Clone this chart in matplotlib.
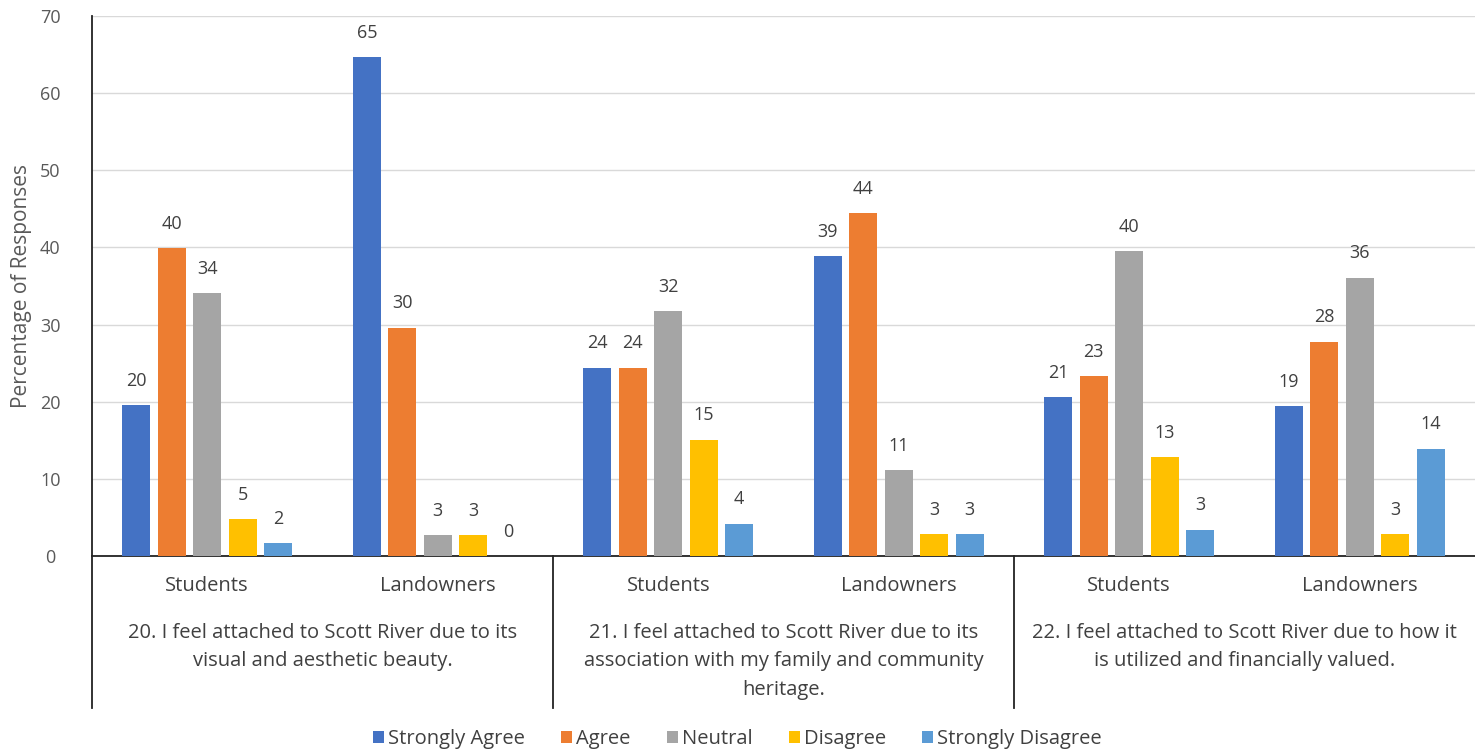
import numpy as np
import matplotlib
matplotlib.use("Agg")
from matplotlib import pyplot as plt
import matplotlib.transforms as mtransforms

plt.rcParams['font.family'] = ['Open Sans', 'DejaVu Sans']

respostas = ["Strongly Agree", "Agree", "Neutral", "Disagree", "Strongly Disagree"]
cores = ["#4472C4", "#ED7D31", "#A5A5A5", "#FFC000", "#5B9BD5"]

grupos = ["Students", "Landowners", "Students", "Landowners", "Students", "Landowners"]
perguntas = [
    "20. I feel attached to Scott River due to its\nvisual and aesthetic beauty.",
    "21. I feel attached to Scott River due to its\nassociation with my family and community\nheritage.",
    "22. I feel attached to Scott River due to how it\nis utilized and financially valued.",
]

# percent per grupo (Students, Landowners) x 3 perguntas
strongly_agree = [19.6, 64.7, 24.4, 38.9, 20.6, 19.4]
agree = [39.9, 29.6, 24.4, 44.4, 23.3, 27.8]
neutral = [34.1, 2.7, 31.7, 11.1, 39.5, 36.1]
disagree = [4.8, 2.7, 15.1, 2.8, 12.8, 2.8]
strongly_disagree = [1.7, 0.0, 4.2, 2.8, 3.4, 13.9]

series = [strongly_agree, agree, neutral, disagree, strongly_disagree]

fig = plt.figure(figsize=(14.75, 7.54), dpi=100)
ax = fig.add_axes([92/1475, 198/754, 1 - 92/1475, 540/754])

x = np.arange(len(grupos))
passo = 0.154
largura = 0.12
for i, (vals, cor, nome) in enumerate(zip(series, cores, respostas)):
    pos = x + (i - 2) * passo
    barras = ax.bar(pos, vals, largura, color=cor, label=nome, zorder=3)
    for b, v in zip(barras, vals):
        ax.annotate(str(int(round(v))), (b.get_x() + b.get_width() / 2, v),
                    xytext=(0, 11), textcoords="offset points",
                    ha="center", va="bottom", fontsize=13, color="#404040")

ax.set_xlim(-0.5, len(grupos) - 0.5)
ax.set_ylim(0, 70)
ax.set_yticks(range(0, 71, 10))
ax.yaxis.grid(True, color="#d9d9d9", linewidth=1, zorder=0)
ax.tick_params(axis="y", length=0, labelsize=13, labelcolor="#595959", pad=30)
for t in ax.get_yticklabels():
    t.set_horizontalalignment("center")
ax.set_xticks([])
for s in ["top", "right"]:
    ax.spines[s].set_visible(False)
ax.spines["left"].set_color("#222222")
ax.spines["bottom"].set_color("#222222")
ax.spines["left"].set_linewidth(1.3)
ax.spines["bottom"].set_linewidth(1.3)
ax.set_ylabel("Percentage of Responses", fontsize=15, color="#595959")
ax.yaxis.set_label_coords(-60/1383, 0.5)

trans = mtransforms.blended_transform_factory(ax.transData, ax.transAxes)
for xi, g in zip(x, grupos):
    ax.text(xi, -30/540, g, transform=trans, ha="center", va="center",
            fontsize=14.5, color="#404040")
for k, p in enumerate(perguntas):
    ax.text(2 * k + 0.5, -67/540, p, transform=trans, ha="center", va="top",
            fontsize=14.5, color="#404040", linespacing=1.55)

# separadores
for sx in [-0.5, 1.5, 3.5]:
    ax.plot([sx, sx], [0, -152/540], transform=trans, color="#222222",
            linewidth=1.3, clip_on=False)

fig.legend(loc="lower center", bbox_to_anchor=(0.5, -0.017), ncol=5, frameon=False,
           fontsize=14.5, handlelength=0.55, handleheight=0.55, handletextpad=0.2,
           columnspacing=1.8, labelcolor="#404040")

fig.savefig("out.png", dpi=100)
